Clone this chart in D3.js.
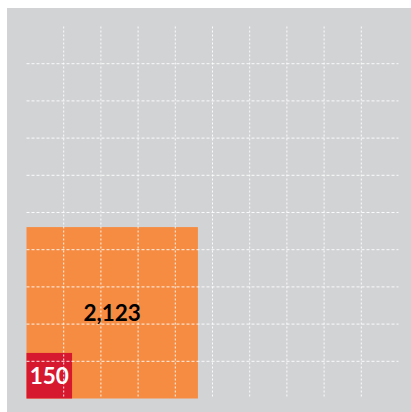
<!DOCTYPE html>
<html>
<head>
<meta charset="utf-8">
<script src="https://cdn.jsdelivr.net/npm/d3@7"></script>
<style>
  html, body { margin: 0; padding: 0; background: #fff; }
  svg { display: block; }
</style>
</head>
<body>
<svg id="chart" width="411" height="412"></svg>
<script>
// values drawn as nested squares, area proportional to value
const labels = ["2,123", "150"];
const values = [2123, 150];
const colors = ["#f58c41", "#d7192f"];
const textColors = ["#000", "#fff"];
const gridTotal = 10000; // whole grid = 10 x 10 cells of 100

const svg = d3.select('#chart');
const x0 = 26.5, y0 = 26.5, size = 372;

svg.append('rect')
  .attr('x', 7).attr('y', 8)
  .attr('width', 404).attr('height', 404)
  .attr('fill', '#d2d3d5');

// side length from value (area encoding)
let side = d3.scaleSqrt().domain([0, gridTotal]).range([0, size]);
let grid = d3.scaleLinear().domain([0, 10]).range([0, size]);

let g = svg.append('g');
values.forEach((v, i) => {
  let s = side(v);
  g.append('rect')
    .attr('x', x0)
    .attr('y', y0 + size - s)
    .attr('width', s)
    .attr('height', s)
    .attr('fill', colors[i]);
});

// grid on top of the squares
let ticks = d3.range(1, 10);
g.selectAll('line.h').data(ticks).join('line')
  .attr('class', 'h')
  .attr('x1', x0).attr('x2', x0 + size)
  .attr('y1', d => y0 + grid(d)).attr('y2', d => y0 + grid(d))
  .attr('stroke', 'rgba(255,255,255,0.9)')
  .attr('stroke-width', 1)
  .attr('stroke-dasharray', '3,2');
g.selectAll('line.v').data(ticks).join('line')
  .attr('class', 'v')
  .attr('y1', y0).attr('y2', y0 + size)
  .attr('x1', d => x0 + grid(d)).attr('x2', d => x0 + grid(d))
  .attr('stroke', 'rgba(255,255,255,0.9)')
  .attr('stroke-width', 1)
  .attr('stroke-dasharray', '2,2');

values.forEach((v, i) => {
  let s = side(v);
  g.append('text')
    .attr('x', x0 + s / 2)
    .attr('y', y0 + size - s / 2)
    .attr('dy', '0.35em')
    .attr('text-anchor', 'middle')
    .attr('font-family', 'Lato, "Open Sans", sans-serif')
    .attr('font-weight', 'bold')
    .attr('font-size', 22.5)
    .attr('fill', textColors[i])
    .text(labels[i]);
});
</script>
</body>
</html>
